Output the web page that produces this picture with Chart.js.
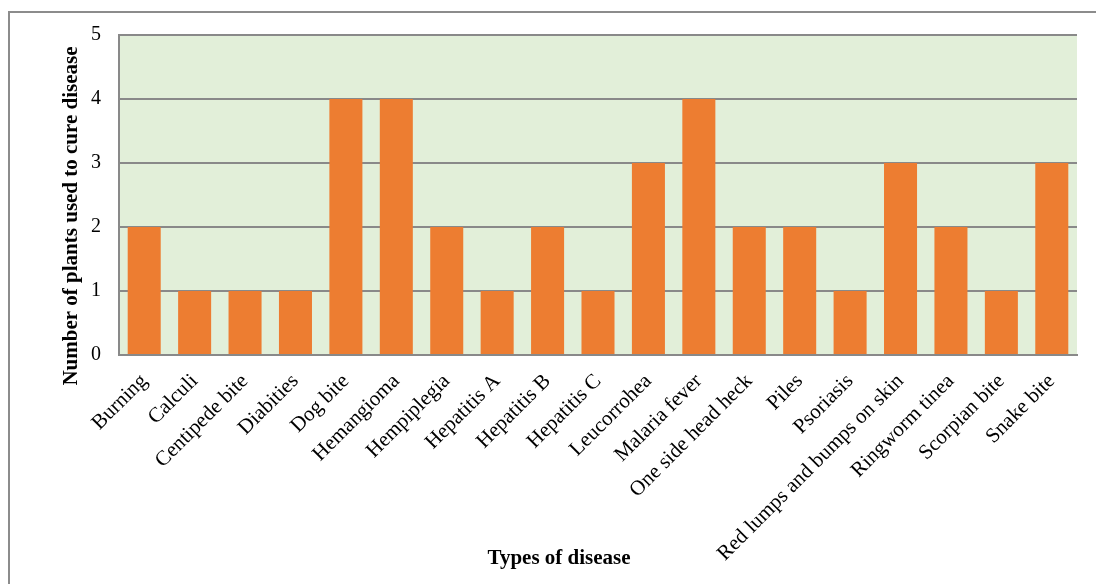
<!DOCTYPE html>
<html>
<head>
<meta charset="utf-8">
<script src="https://cdn.jsdelivr.net/npm/chart.js@4/dist/chart.umd.min.js"></script>
<style>
  html, body { margin: 0; padding: 0; background: #ffffff; }
  #wrap { width: 1096px; height: 584px; }
</style>
</head>
<body>
<div id="wrap"><canvas id="c" width="1096" height="584"></canvas></div>
<script>
// Diseases and how many plants are used to treat each one
const diseases = [
  "Burning", "Calculi", "Centipede bite", "Diabities", "Dog bite",
  "Hemangioma", "Hempiplegia", "Hepatitis A", "Hepatitis B", "Hepatitis C",
  "Leucorrohea", "Malaria fever", "One side head heck", "Piles", "Psoriasis",
  "Red lumps and bumps on skin", "Ringworm tinea", "Scorpian bite", "Snake bite"
];
const plantCounts = [2, 1, 1, 1, 4, 4, 2, 1, 2, 1, 3, 4, 2, 2, 1, 3, 2, 1, 3];
const yTicks = [0, 1, 2, 3, 4, 5];

const xTitle = "Types of disease";
const yTitle = "Number of plants used to cure disease";

const SERIF = "'Liberation Serif', 'Times New Roman', serif";
const GRID = "#898989";

// Page frame, plot fill and the two axis titles
const decor = {
  id: "decor",
  beforeDraw(chart) {
    const { ctx, chartArea: a } = chart;
    ctx.save();
    ctx.fillStyle = "#ffffff";
    ctx.fillRect(0, 0, chart.width, chart.height);
    ctx.strokeStyle = "#8c8c8c";
    ctx.lineWidth = 2;
    ctx.beginPath();
    ctx.moveTo(9, chart.height);
    ctx.lineTo(9, 12);
    ctx.lineTo(chart.width, 12);
    ctx.stroke();
    ctx.fillStyle = "#e2efd9";
    ctx.fillRect(a.left, a.top, a.right - a.left, a.bottom - a.top);
    ctx.restore();
  },
  afterDraw(chart) {
    const { ctx } = chart;
    ctx.save();
    ctx.fillStyle = "#000000";
    ctx.font = "bold 21px " + SERIF;
    ctx.textAlign = "center";
    ctx.textBaseline = "middle";
    ctx.fillText(xTitle, 559, 559);
    ctx.translate(72, 216);
    ctx.rotate(-Math.PI / 2);
    ctx.fillText(yTitle, 0, 0);
    ctx.restore();
  }
};

new Chart(document.getElementById("c"), {
  type: "bar",
  data: {
    labels: diseases,
    datasets: [{
      data: plantCounts,
      backgroundColor: "#ed7d31",
      borderWidth: 0,
      categoryPercentage: 1,
      barPercentage: 0.655
    }]
  },
  options: {
    responsive: false,
    animation: false,
    devicePixelRatio: 1,
    layout: { padding: { top: 35, right: 19, left: 0, bottom: 0 } },
    plugins: {
      legend: { display: false },
      tooltip: { enabled: false }
    },
    scales: {
      x: {
        offset: true,
        grid: { display: false, drawTicks: false },
        border: { display: true, color: GRID, width: 2 },
        ticks: {
          color: "#000000",
          font: { family: SERIF, size: 21 },
          minRotation: 45,
          maxRotation: 45,
          autoSkip: false,
          padding: 14
        },
        afterFit(scale) { scale.height = 229; }
      },
      y: {
        min: 0,
        max: 5,
        afterBuildTicks(scale) { scale.ticks = yTicks.map(v => ({ value: v })); },
        grid: { color: GRID, lineWidth: 2, drawTicks: false },
        border: { display: true, color: GRID, width: 2 },
        ticks: {
          color: "#000000",
          font: { family: SERIF, size: 20 },
          padding: 18
        },
        afterFit(scale) { scale.width = 119; }
      }
    }
  },
  plugins: [decor]
});
</script>
</body>
</html>
